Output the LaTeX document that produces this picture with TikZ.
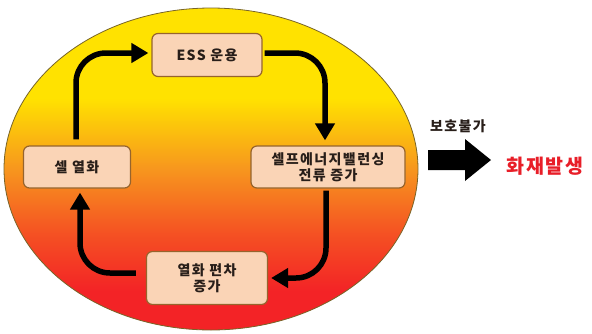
\documentclass[tikz,border=0pt]{standalone}
\usepackage{fontspec}
\usetikzlibrary{arrows.meta}
\newfontfamily\kr{Noto Sans CJK KR}[LetterSpace=10]
\definecolor{eyellow}{RGB}{255,226,0}
\definecolor{eorange}{RGB}{247,150,30}
\definecolor{ered}{RGB}{243,35,38}
\definecolor{boxfill}{RGB}{250,212,182}
\definecolor{boxedge}{RGB}{150,100,45}
\definecolor{txt}{RGB}{40,30,25}
\definecolor{firered}{RGB}{232,30,40}
\definecolor{elledge}{RGB}{120,100,40}
\pgfdeclareverticalshading{ellgrad}{100bp}{color(0bp)=(ered); color(31bp)=(ered); color(40bp)=(ered!60!eorange); color(50bp)=(eorange); color(61bp)=(eyellow); color(100bp)=(eyellow)}
\begin{document}
\begin{tikzpicture}[x=1pt,y=-1pt,
  box/.style={draw=boxedge, line width=1.2pt, fill=boxfill, rounded corners=6pt,
    inner sep=0pt, align=center, text=txt,
    font=\kr\bfseries\fontsize{14}{16}\selectfont},
  flow/.style={line width=5.5pt, rounded corners=30pt, draw=black,
    -{Triangle[width=19pt,length=17pt]}},
  lbl/.style={inner sep=0pt, font=\kr\bfseries\fontsize{14}{16}\selectfont, text=txt}]
\useasboundingbox (0,0) rectangle (592,333);
\shade[shading=ellgrad, draw=elledge, line width=0.8pt] (211,169) ellipse [x radius=207, y radius=161];

\node[box, minimum width=110pt, minimum height=43pt] (ess) at (207,55) {ESS 운용};
\node[box, minimum width=107pt, minimum height=42pt] (cell) at (77,167) {셀 열화};
\node[box, minimum width=154pt, minimum height=42pt] (bal) at (328,167) {셀프에너지밸런싱\\전류 증가};
\node[box, minimum width=121pt, minimum height=53pt] (dev) at (207,278) {열화 편차\\증가};

\draw[flow, shorten <=6pt, shorten >=3pt] ([xshift=-1pt]cell.north) |- ([yshift=2pt]ess.west);
\draw[flow, shorten <=2pt, shorten >=5pt] ([yshift=2pt]ess.east) -| ([xshift=-3pt]bal.north);
\draw[flow, shorten <=2pt, shorten >=3pt] ([xshift=-2pt]bal.south) |- (dev.east);
\draw[flow, shorten <=10pt, shorten >=4pt] ([yshift=5pt]dev.west) -| ([xshift=3pt]cell.south);

\node[lbl] (nop) at (458,126) {보호불가};
\fill[black] (428,150) -- (465,150) -- (465,139) -- (491,160) -- (465,181) -- (465,170) -- (428,170) -- cycle;
\node[inner sep=0pt, font=\kr\bfseries\fontsize{19.5}{22}\selectfont, text=firered] (fire) at (545,166) {화재발생};
\end{tikzpicture}
\end{document}
